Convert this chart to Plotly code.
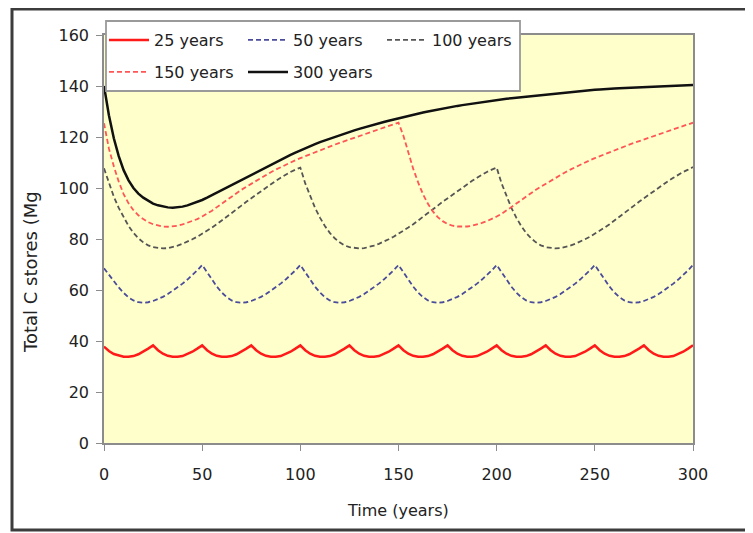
import plotly.graph_objects as go

# time grid (years), every 2.5 years from 0 to 300
years = [i * 2.5 for i in range(121)]

# 25-year rotation
c25 = [
    37.8, 36.1, 34.9, 34.2, 33.8, 33.8, 34.1, 34.8, 35.8, 37.0,
    38.3, 36.4, 35.0, 34.2, 33.8, 33.8, 34.1, 34.8, 35.8, 37.0,
    38.3, 36.4, 35.0, 34.2, 33.8, 33.8, 34.1, 34.8, 35.8, 37.0,
    38.3, 36.4, 35.0, 34.2, 33.8, 33.8, 34.1, 34.8, 35.8, 37.0,
    38.3, 36.4, 35.0, 34.2, 33.8, 33.8, 34.1, 34.8, 35.8, 37.0,
    38.3, 36.4, 35.0, 34.2, 33.8, 33.8, 34.1, 34.8, 35.8, 37.0,
    38.3, 36.4, 35.0, 34.2, 33.8, 33.8, 34.1, 34.8, 35.8, 37.0,
    38.3, 36.4, 35.0, 34.2, 33.8, 33.8, 34.1, 34.8, 35.8, 37.0,
    38.3, 36.4, 35.0, 34.2, 33.8, 33.8, 34.1, 34.8, 35.8, 37.0,
    38.3, 36.4, 35.0, 34.2, 33.8, 33.8, 34.1, 34.8, 35.8, 37.0,
    38.3, 36.4, 35.0, 34.2, 33.8, 33.8, 34.1, 34.8, 35.8, 37.0,
    38.3, 36.4, 35.0, 34.2, 33.8, 33.8, 34.1, 34.8, 35.8, 37.0,
    38.3,
]

# 50-year rotation
c50 = [
    68.5, 66.0, 63.4, 61.0, 58.9, 57.1, 55.9, 55.2, 55.0, 55.2,
    55.7, 56.4, 57.3, 58.4, 59.7, 61.0, 62.5, 64.1, 65.8, 67.7,
    69.8, 66.9, 64.0, 61.3, 59.0, 57.2, 55.9, 55.2, 55.0, 55.2,
    55.7, 56.4, 57.3, 58.4, 59.7, 61.0, 62.5, 64.1, 65.8, 67.7,
    69.8, 66.9, 64.0, 61.3, 59.0, 57.2, 55.9, 55.2, 55.0, 55.2,
    55.7, 56.4, 57.3, 58.4, 59.7, 61.0, 62.5, 64.1, 65.8, 67.7,
    69.8, 66.9, 64.0, 61.3, 59.0, 57.2, 55.9, 55.2, 55.0, 55.2,
    55.7, 56.4, 57.3, 58.4, 59.7, 61.0, 62.5, 64.1, 65.8, 67.7,
    69.8, 66.9, 64.0, 61.3, 59.0, 57.2, 55.9, 55.2, 55.0, 55.2,
    55.7, 56.4, 57.3, 58.4, 59.7, 61.0, 62.5, 64.1, 65.8, 67.7,
    69.8, 66.9, 64.0, 61.3, 59.0, 57.2, 55.9, 55.2, 55.0, 55.2,
    55.7, 56.4, 57.3, 58.4, 59.7, 61.0, 62.5, 64.1, 65.8, 67.7,
    69.8,
]

# 100-year rotation
c100 = [
    107.7, 101.8, 96.6, 92.2, 88.4, 85.1, 82.4, 80.3, 78.7, 77.5,
    76.8, 76.4, 76.3, 76.4, 76.8, 77.4, 78.1, 78.9, 79.9, 80.9,
    82.0, 83.2, 84.5, 85.8, 87.2, 88.6, 90.1, 91.6, 93.1, 94.6,
    96.0, 97.4, 98.8, 100.2, 101.5, 102.8, 104.0, 105.2, 106.3, 107.2,
    108.0, 101.8, 96.6, 92.2, 88.4, 85.1, 82.4, 80.3, 78.7, 77.5,
    76.8, 76.4, 76.3, 76.4, 76.8, 77.4, 78.1, 78.9, 79.9, 80.9,
    82.0, 83.2, 84.5, 85.8, 87.2, 88.6, 90.1, 91.6, 93.1, 94.6,
    96.0, 97.4, 98.8, 100.2, 101.5, 102.8, 104.0, 105.2, 106.3, 107.2,
    108.0, 101.8, 96.6, 92.2, 88.4, 85.1, 82.4, 80.3, 78.7, 77.5,
    76.8, 76.4, 76.3, 76.4, 76.8, 77.4, 78.1, 78.9, 79.9, 80.9,
    82.0, 83.2, 84.5, 85.8, 87.2, 88.6, 90.1, 91.6, 93.1, 94.6,
    96.0, 97.4, 98.8, 100.2, 101.5, 102.8, 104.0, 105.2, 106.3, 107.2,
    108.2,
]

# 150-year rotation
c150 = [
    125.4, 115.5, 108.5, 102.5, 97.6, 94.0, 91.3, 89.3, 87.8, 86.6,
    85.8, 85.2, 84.9, 84.8, 84.9, 85.2, 85.7, 86.3, 87.0, 87.8,
    88.8, 89.9, 91.1, 92.5, 93.9, 95.3, 96.7, 98.0, 99.3, 100.5,
    101.7, 102.9, 104.0, 105.1, 106.2, 107.2, 108.2, 109.2, 110.1, 110.9,
    111.7, 112.5, 113.3, 114.1, 114.8, 115.6, 116.3, 117.0, 117.7, 118.4,
    119.1, 119.8, 120.4, 121.1, 121.7, 122.4, 123.0, 123.7, 124.3, 125.0,
    125.6, 120.5, 113.5, 107.5, 102.2, 97.5, 93.8, 90.8, 88.6, 87.0,
    85.9, 85.2, 84.9, 84.8, 84.9, 85.2, 85.7, 86.3, 87.0, 87.8,
    88.8, 89.9, 91.1, 92.5, 93.9, 95.3, 96.7, 98.0, 99.3, 100.5,
    101.7, 102.9, 104.0, 105.1, 106.2, 107.2, 108.2, 109.2, 110.1, 110.9,
    111.7, 112.5, 113.3, 114.1, 114.8, 115.6, 116.3, 117.0, 117.7, 118.4,
    119.1, 119.8, 120.4, 121.1, 121.7, 122.4, 123.0, 123.7, 124.3, 125.0,
    125.6,
]

# 300-year rotation
c300 = [
    140.0, 128.5, 119.5, 112.5, 107.0, 103.0, 100.0, 97.8, 96.2, 94.9,
    93.9, 93.2, 92.7, 92.4, 92.3, 92.4, 92.7, 93.2, 93.8, 94.5,
    95.3, 96.2, 97.2, 98.2, 99.2, 100.2, 101.2, 102.1, 103.1, 104.0,
    105.0, 105.9, 106.9, 107.9, 109.0, 110.0, 111.0, 112.0, 113.0, 113.9,
    114.8, 115.6, 116.4, 117.2, 118.0, 118.7, 119.4, 120.1, 120.8, 121.4,
    122.0, 122.6, 123.2, 123.8, 124.4, 124.9, 125.4, 125.9, 126.4, 126.9,
    127.4, 127.8, 128.3, 128.7, 129.2, 129.6, 130.0, 130.4, 130.8, 131.2,
    131.5, 131.9, 132.2, 132.5, 132.8, 133.1, 133.4, 133.7, 134.0, 134.2,
    134.5, 134.7, 135.0, 135.2, 135.4, 135.7, 135.9, 136.1, 136.3, 136.5,
    136.7, 136.9, 137.1, 137.3, 137.5, 137.7, 137.9, 138.0, 138.2, 138.4,
    138.5, 138.6, 138.8, 138.9, 139.0, 139.1, 139.2, 139.3, 139.4, 139.5,
    139.6, 139.7, 139.8, 139.9, 140.0, 140.0, 140.1, 140.2, 140.3, 140.3,
    140.4,
]

x_ticks = [0, 50, 100, 150, 200, 250, 300]
y_ticks = [0, 20, 40, 60, 80, 100, 120, 140, 160]

FONT = "DejaVu Sans"
OFF = 8                      # page body margin of the browser
W, H = 745, 525              # figure size (fits the 753x533 window)
L, T = 104 - OFF, 35 - OFF   # plot area left/top on screen: 104, 35
R = W - (693 - OFF)          # plot area right on screen: 693
B = H - (443 - OFF)          # plot area bottom on screen: 443
PW, PH = W - L - R, H - T - B


def px(sx):
    return (sx - OFF - L) / PW


def py(sy):
    return (H - B - (sy - OFF)) / PH


series = [
    ("25 years", c25, dict(color="#FF1A1A", width=2.5), "legend"),
    ("50 years", c50, dict(color="#4B4B9B", width=1.8, dash="5px,3px"), "legend"),
    ("100 years", c100, dict(color="#555555", width=1.8, dash="5px,3px"), "legend"),
    ("150 years", c150, dict(color="#FF5555", width=1.8, dash="5px,3px"), "legend2"),
    ("300 years", c300, dict(color="#111111", width=2.5), "legend2"),
]

fig = go.Figure()
for name, vals, line, leg in series:
    fig.add_trace(go.Scatter(x=years, y=vals, mode="lines", name=name,
                             line=line, legend=leg, hoverinfo="skip"))

axis_common = dict(
    showgrid=False, zeroline=False, showline=True, linecolor="#8C8C8C",
    linewidth=1.5, mirror=True, ticks="outside", ticklen=6,
    tickcolor="#8C8C8C", tickwidth=1.2,
    tickfont=dict(family=FONT, size=16, color="#222222"),
)

legend_common = dict(
    orientation="h", xanchor="left", yanchor="middle",
    bgcolor="rgba(0,0,0,0)", borderwidth=0, entrywidth=84, itemwidth=40,
    font=dict(family=FONT, size=16, color="#222222"),
)

fig.update_layout(
    width=W, height=H,
    margin=dict(l=L, r=R, t=T, b=B),
    paper_bgcolor="white",
    plot_bgcolor="#FFFFCC",
    xaxis=dict(range=[0, 300], tickvals=x_ticks, ticklabelstandoff=10,
               **axis_common),
    yaxis=dict(range=[0, 160], tickvals=y_ticks, ticklabelstandoff=4,
               **axis_common),
    legend=dict(x=0, y=py(40), **legend_common),
    legend2=dict(x=0, y=py(72), **legend_common),
    shapes=[
        dict(type="rect", xref="paper", yref="paper",
             x0=px(106), x1=px(520), y0=py(91), y1=py(21),
             fillcolor="white", line=dict(color="#9A9A9A", width=1.8),
             layer="above"),
        dict(type="rect", xref="paper", yref="paper",
             x0=px(12), x1=px(750), y0=py(530), y1=py(9),
             fillcolor="rgba(0,0,0,0)", line=dict(color="#3C3C3C", width=3),
             layer="above"),
    ],
    annotations=[
        dict(text="Total C stores (Mg", xref="paper", yref="paper",
             x=px(30), y=py(272), textangle=-90, showarrow=False,
             xanchor="center", yanchor="middle",
             font=dict(family=FONT, size=18, color="#222222")),
        dict(text="Time (years)", xref="paper", yref="paper",
             x=px(398), y=py(510), showarrow=False,
             xanchor="center", yanchor="middle",
             font=dict(family=FONT, size=16, color="#222222")),
    ],
)

fig.write_html("out.html")
